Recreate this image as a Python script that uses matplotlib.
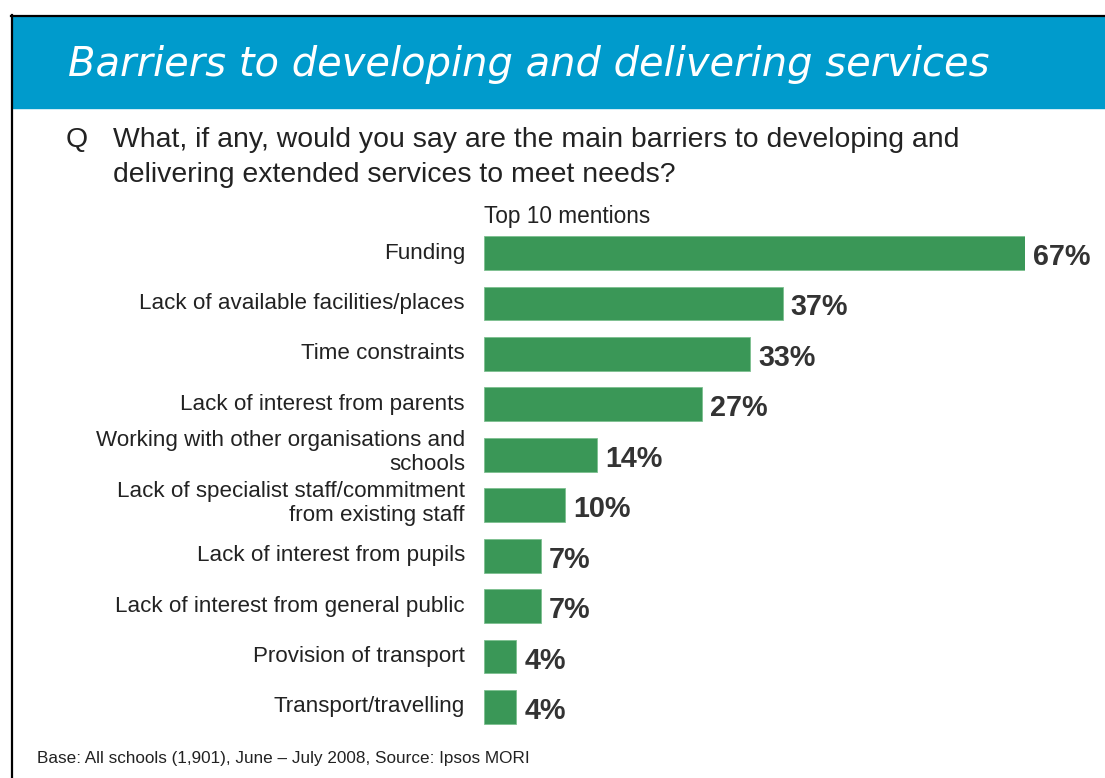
import matplotlib
matplotlib.use("Agg")
import matplotlib.pyplot as plt
from matplotlib.patches import Rectangle
from matplotlib.lines import Line2D
from matplotlib.transforms import offset_copy

plt.rcParams['font.family'] = ['Liberation Sans', 'DejaVu Sans']

categories = [
    "Funding",
    "Lack of available facilities/places",
    "Time constraints",
    "Lack of interest from parents",
    "Working with other organisations and\nschools",
    "Lack of specialist staff/commitment\nfrom existing staff",
    "Lack of interest from pupils",
    "Lack of interest from general public",
    "Provision of transport",
    "Transport/travelling",
]
values = [67, 37, 33, 27, 14, 10, 7, 7, 4, 4]

title = "Barriers to developing and delivering services"
question_lines = ["What, if any, would you say are the main barriers to developing and",
                  "delivering extended services to meet needs?"]
subtitle = "Top 10 mentions"
footer = "Base: All schools (1,901), June \u2013 July 2008, Source: Ipsos MORI"

W, H = 1105, 778
fig = plt.figure(figsize=(W / 100, H / 100), dpi=100)

# header band and frame
fig.patches.append(Rectangle((12 / W, 1 - 108 / H), 1, 92 / H,
                             transform=fig.transFigure, color="#009BCC", zorder=0))
fig.lines.append(Line2D([11 / W, 1], [1 - 15.5 / H] * 2, transform=fig.transFigure,
                        color="black", lw=1.6))
fig.lines.append(Line2D([11.5 / W] * 2, [0, 1 - 15 / H], transform=fig.transFigure,
                        color="black", lw=1.6))

fig.text(68 / W, 1 - 64 / H, title, color="white", fontsize=28.8, style="italic",
         family="DejaVu Sans", va="center", ha="left")
fig.text(66 / W, 1 - 140 / H, "Q", fontsize=20.4, color="#222222", va="center")
for i, line in enumerate(question_lines):
    fig.text(113 / W, 1 - (140 + 35 * i) / H, line, fontsize=20.4, color="#222222",
             va="center")
fig.text(484 / W, 1 - 217 / H, subtitle, fontsize=16.3, color="#222222", va="center")
fig.text(37 / W, 1 - 759 / H, footer, fontsize=12.3, color="#222222", va="center")

ax = fig.add_axes([484 / W, 1 - 732.2 / H, (1025 - 484) / W, (732.2 - 227.8) / H])
ypos = list(range(len(categories)))
ax.barh(ypos, values, height=0.67, color="#3A9757", edgecolor="#7CC08F", linewidth=0.6)
ax.set_xlim(0, 67)
ax.set_ylim(len(categories) - 0.5, -0.5)
for y, v in zip(ypos, values):
    ax.text(v + 1.0, y + 0.08, f"{v}%", fontsize=20.7, fontweight="bold",
            color="#333333", va="center", ha="left", clip_on=False)
ax.set_yticks(ypos)
ax.set_yticklabels(categories, fontsize=16.1, color="#222222")
ax.tick_params(axis="y", length=0, pad=13.7)
ax.set_xticks([])
for s in ax.spines.values():
    s.set_visible(False)
for lbl in ax.get_yticklabels():
    lbl.set_horizontalalignment("right")
    shift = 6 if "\n" in lbl.get_text() else 2.5
    lbl.set_transform(offset_copy(lbl.get_transform(), fig=fig, y=shift, units="dots"))

fig.savefig("out.png", dpi=100)
